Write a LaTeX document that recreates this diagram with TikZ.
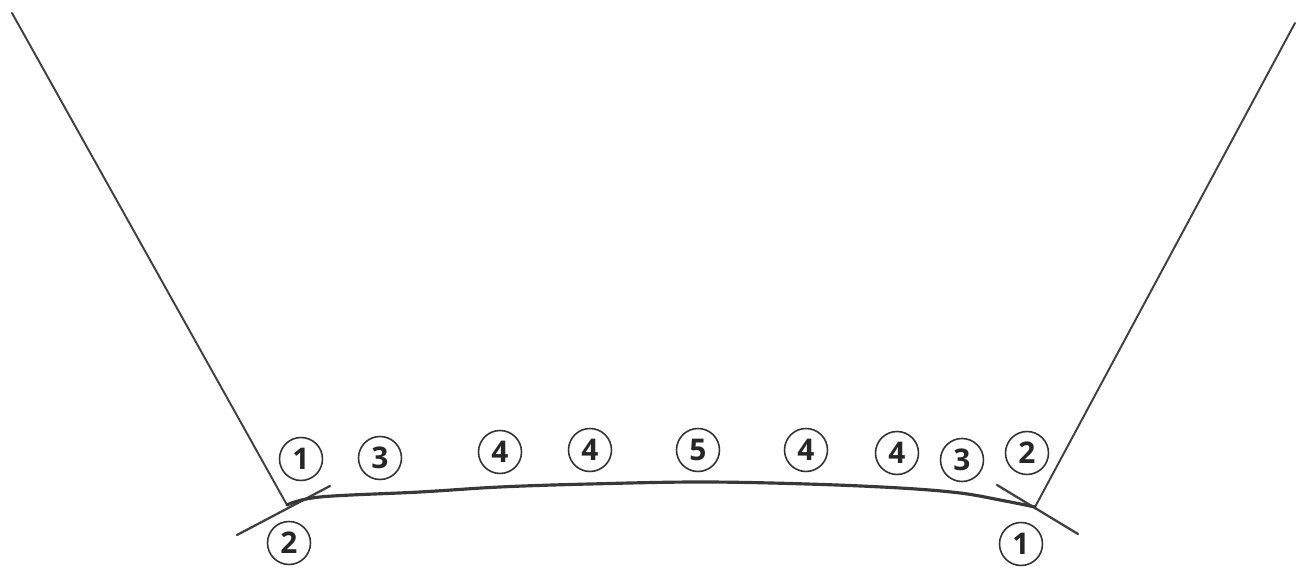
\documentclass[tikz,border=0pt]{standalone}
\usepackage{fontspec}
\setmainfont{Open Sans}
\begin{document}
\begin{tikzpicture}[x={(0.02cm,0)},y={(0,-0.02cm)},
  wall/.style={draw=black!75,line width=1.1pt,line cap=round},
  bed/.style={draw=black!78,line width=1.8pt,line cap=round},
  num/.style={circle,draw=black!80,line width=0.9pt,minimum size=0.86cm,inner sep=0pt,font=\fontsize{17}{17}\selectfont\bfseries,text=black!85}]
\useasboundingbox (0,0) rectangle (1306,573);
% key points
\coordinate (LT) at (12,13);
\coordinate (LJ) at (287,505);
\coordinate (RT) at (1295,23);
\coordinate (RJ) at (1035,507);
\coordinate (LA) at (237,535);
\coordinate (LB) at (330,486);
\coordinate (RA) at (997,485);
\coordinate (RB) at (1078,534);
% walls
\draw[wall] (LT) -- (LJ);
\draw[wall] (RT) -- (RJ);
% short crossing strokes
\draw[wall,line width=1.3pt] (LA) -- (LB);
\draw[wall,line width=1.3pt] (RA) -- (RB);
% bed curve
\draw[bed] plot[smooth,tension=0.6] coordinates {(LJ) (320,497) (420,492) (500,487) (590,484) (700,482) (807,484) (900,488) (960,493) (1000,500) (RJ)};
% labels
\node[num] (n1l) at (301,459) {1};
\node[num] (n3l) at (380,458) {3};
\node[num] (n4a) at (500,452) {4};
\node[num] (n4b) at (590,450) {4};
\node[num] (n5) at (698,450) {5};
\node[num] (n4c) at (806,450) {4};
\node[num] (n4d) at (897,453) {4};
\node[num] (n3r) at (962,460) {3};
\node[num] (n2r) at (1027,453) {2};
\node[num] (n2l) at (289,543) {2};
\node[num] (n1r) at (1021,544) {1};
\end{tikzpicture}
\end{document}
